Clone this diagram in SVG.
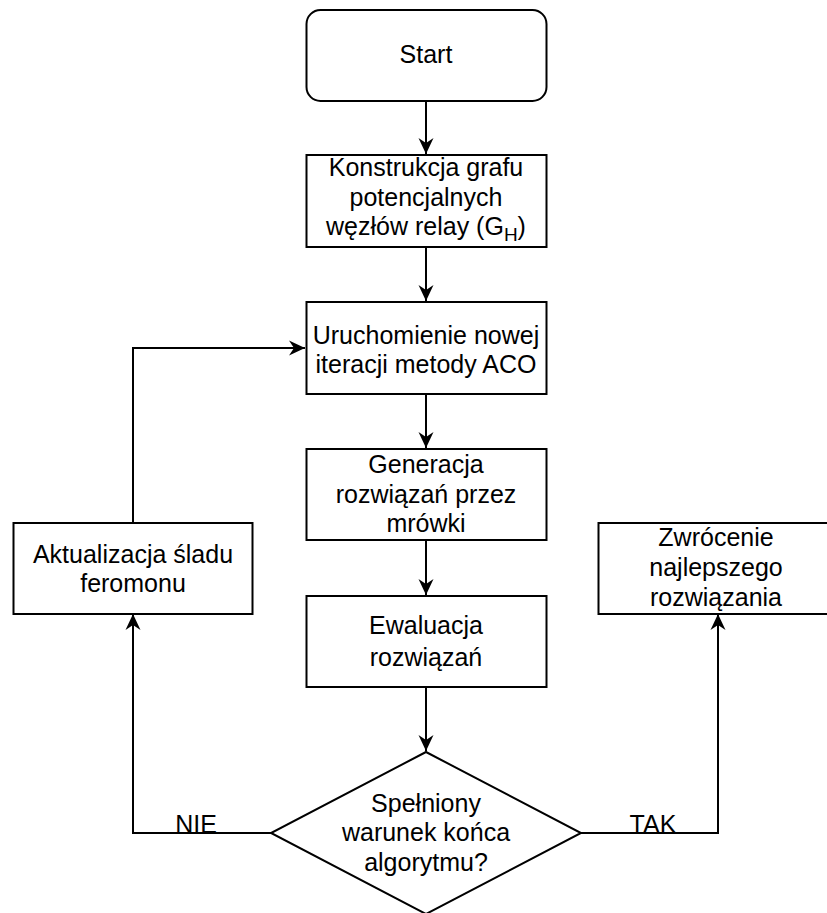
<svg xmlns="http://www.w3.org/2000/svg" width="827" height="913" viewBox="0 0 827 913">
<style>
.box{fill:#fff;stroke:#000;stroke-width:2}
.t{font-family:"Liberation Sans",Arial,sans-serif;font-size:25px;fill:#000;text-anchor:middle}
.c{fill:none;stroke:#000;stroke-width:2}
</style>
<defs>
<marker id="ah" viewBox="-17 -9 19 18" refX="0" refY="0" markerWidth="19" markerHeight="18" markerUnits="userSpaceOnUse" orient="auto">
<path d="M0,0 L-16,-7.5 L-11,0 L-16,7.5 Z" fill="#000"/>
</marker>
</defs>
<rect width="827" height="913" fill="#fff"/>
<g id="connectors">
<path class="c" d="M426,101 V154" marker-end="url(#ah)"/>
<path class="c" d="M426,247 V301" marker-end="url(#ah)"/>
<path class="c" d="M426,394 V448" marker-end="url(#ah)"/>
<path class="c" d="M426,540 V595" marker-end="url(#ah)"/>
<path class="c" d="M426,687 V751" marker-end="url(#ah)"/>
<path class="c" d="M271,833 H133 V614" marker-end="url(#ah)"/>
<path class="c" d="M133,523 V348 H305" marker-end="url(#ah)"/>
<path class="c" d="M581,833 H718 V614" marker-end="url(#ah)"/>
<text class="t" x="196" y="833">NIE</text>
<text class="t" x="653" y="833">TAK</text>
</g>
<g id="start">
<rect class="box" x="306.5" y="10" width="240" height="91" rx="14"/>
<text class="t" x="426" y="63">Start</text>
</g>
<g id="konstrukcja">
<rect class="box" x="306.5" y="155" width="240" height="92"/>
<text class="t" x="426" y="176">Konstrukcja grafu</text>
<text class="t" x="426" y="206">potencjalnych</text>
<text class="t" x="426" y="235">węzłów relay (G<tspan font-size="19" dy="6">H</tspan><tspan dy="-6">)</tspan></text>
</g>
<g id="uruchomienie">
<rect class="box" x="306.5" y="302" width="240" height="92"/>
<text class="t" x="426" y="344">Uruchomienie nowej</text>
<text class="t" x="426" y="373">iteracji metody ACO</text>
</g>
<g id="generacja">
<rect class="box" x="306.5" y="449" width="240" height="91"/>
<text class="t" x="426" y="473">Generacja</text>
<text class="t" x="426" y="503">rozwiązań przez</text>
<text class="t" x="426" y="532">mrówki</text>
</g>
<g id="ewaluacja">
<rect class="box" x="306.5" y="596" width="240" height="91"/>
<text class="t" x="426" y="634">Ewaluacja</text>
<text class="t" x="426" y="666">rozwiązań</text>
</g>
<g id="aktualizacja">
<rect class="box" x="13.5" y="523" width="239" height="91"/>
<text class="t" x="133" y="563">Aktualizacja śladu</text>
<text class="t" x="133" y="592">feromonu</text>
</g>
<g id="zwrocenie">
<rect class="box" x="598.5" y="523" width="240" height="91"/>
<text class="t" x="716" y="546">Zwrócenie</text>
<text class="t" x="716" y="576">najlepszego</text>
<text class="t" x="716" y="606">rozwiązania</text>
</g>
<g id="warunek">
<path class="box" d="M426,752 L581,833 L426,914 L271,833 Z"/>
<text class="t" x="426" y="812">Spełniony</text>
<text class="t" x="426" y="841">warunek końca</text>
<text class="t" x="426" y="871">algorytmu?</text>
</g>
</svg>
